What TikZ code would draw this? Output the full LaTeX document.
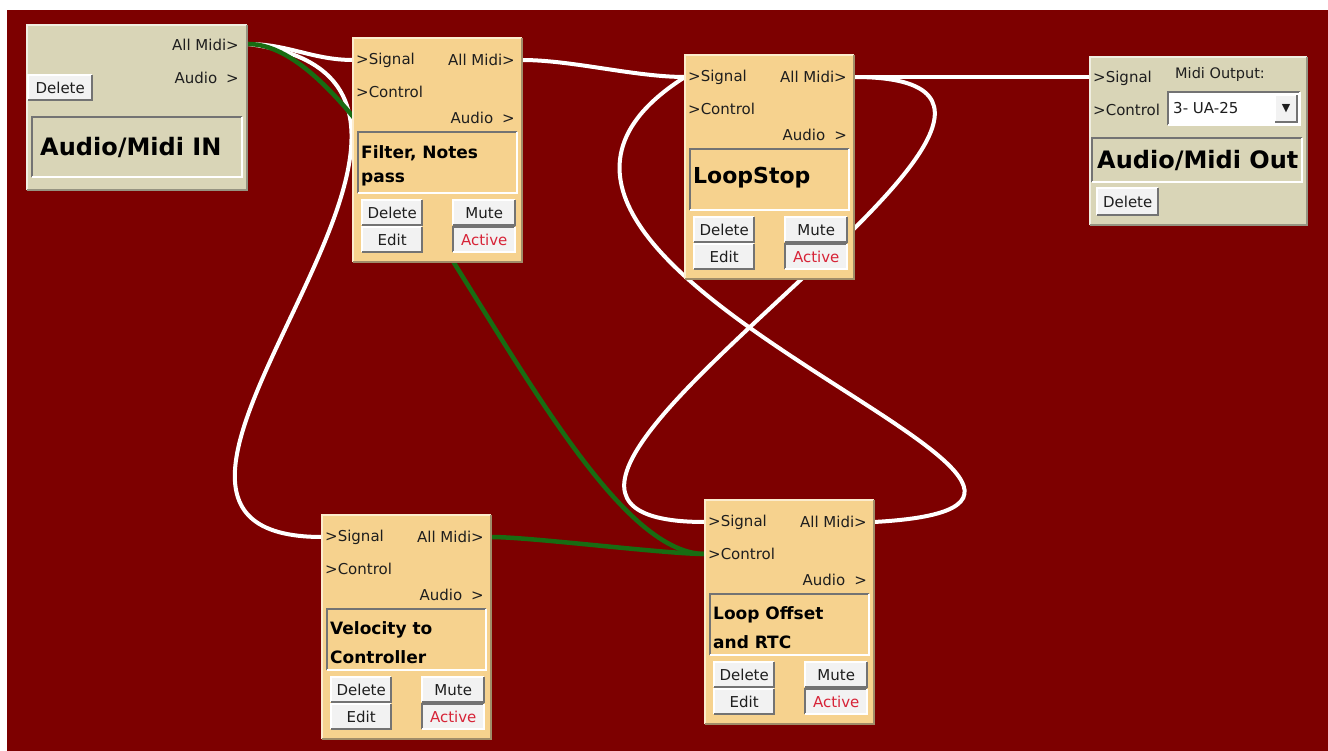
\documentclass[tikz,border=0pt]{standalone}
\usepackage{fontspec}
\setmainfont{DejaVu Sans}
\usetikzlibrary{calc}
\definecolor{bgred}{RGB}{125,0,0}
\definecolor{tanbox}{RGB}{246,210,142}
\definecolor{tanhi}{RGB}{252,236,205}
\definecolor{tanlo}{RGB}{160,140,105}
\definecolor{beige}{RGB}{217,213,183}
\definecolor{beigehi}{RGB}{240,238,225}
\definecolor{beigelo}{RGB}{150,148,130}
\definecolor{wgreen}{RGB}{24,108,18}
\definecolor{btnfill}{RGB}{242,242,242}
\definecolor{dkedge}{RGB}{115,115,115}
\definecolor{actred}{RGB}{215,35,55}
\definecolor{ink}{RGB}{30,30,30}
\pgfdeclarelayer{bglayer}
\pgfdeclarelayer{wires}
\pgfsetlayers{bglayer,wires,main}
\tikzset{
  lbl/.style={font=\fontsize{15}{17}\selectfont, inner sep=0pt, text=ink},
  pbox/.style={rectangle, anchor=north west, minimum width=169, minimum height=224, fill=tanbox, inner sep=0pt},
  panel/.style={rectangle, anchor=north west, minimum width=159, minimum height=61, fill=tanbox, inner sep=0pt},
  btn/.style={rectangle, anchor=north west, minimum width=60, minimum height=25, fill=btnfill, inner sep=0pt, font=\fontsize{15}{17}\selectfont, text=ink},
  actv/.style={btn, minimum width=62, text=actred},
  ttlS/.style={anchor=west, inner sep=0pt, font=\bfseries\fontsize{17}{19}\selectfont, text=black},
  ttlB/.style={anchor=west, inner sep=0pt, font=\bfseries\fontsize{22}{25}\selectfont, text=black},
  ttlX/.style={anchor=west, inner sep=0pt, font=\bfseries\fontsize{24}{27}\selectfont, text=black},
  wire/.style={draw=white, line width=4pt},
  gwire/.style={draw=wgreen, line width=4.5pt},
}
\newcommand\bevel[3]{%
  \draw[#2, line width=2pt] (#1.south west) |- (#1.north east);
  \draw[#3, line width=2pt] (#1.south west) -| (#1.north east);}
\newcommand\plugin[4]{%
\begin{scope}[shift={(#2,#3)}]
  \node[pbox] (#1) at (0,0) {};
  \bevel{#1}{tanhi}{tanlo}
  \node[lbl,anchor=west] (#1-l1) at (3,22) {>Signal};
  \node[lbl,anchor=east] (#1-l2) at (162,22) {All Midi>};
  \node[lbl,anchor=west] (#1-l3) at (3,54) {>Control};
  \node[lbl,anchor=east] (#1-l4) at (162,80) {Audio\hspace{9pt}>};
  \node[panel] (#1-t) at (5,94) {};
  \bevel{#1-t}{dkedge}{white}
  #4
  \node[btn] (#1-d) at (9,162) {Delete}; \bevel{#1-d}{white}{dkedge}
  \node[btn] (#1-e) at (9,189) {Edit}; \bevel{#1-e}{white}{dkedge}
  \node[btn, minimum width=62] (#1-m) at (100,162) {Mute}; \bevel{#1-m}{white}{dkedge}
  \node[actv] (#1-a) at (100,189) {Active}; \bevel{#1-a}{dkedge}{white}
  \coordinate (#1-sig) at (0,22);
  \coordinate (#1-ctl) at (0,54);
  \coordinate (#1-out) at (169,22);
\end{scope}}
\begin{document}
\begin{tikzpicture}[x=1pt,y=-1pt]
\useasboundingbox (0,0) rectangle (1328,751);
\begin{pgfonlayer}{bglayer}
  \fill[white] (0,0) rectangle (1328,751);
  \fill[bgred] (7,10) rectangle (1328,751);
\end{pgfonlayer}

% Audio/Midi IN
\node[rectangle, anchor=north west, minimum width=220, minimum height=165, fill=beige, inner sep=0pt] (in) at (27,25) {};
\bevel{in}{beigehi}{beigelo}
\node[lbl,anchor=east] (in-l1) at (239,45) {All Midi>};
\node[lbl,anchor=east] (in-l2) at (239,78) {Audio\hspace{9pt}>};
\node[btn, minimum width=64] (in-d) at (28,75) {Delete}; \bevel{in-d}{white}{dkedge}
\node[rectangle, anchor=north west, minimum width=210, minimum height=60, fill=beige, inner sep=0pt] (in-t) at (32,117) {};
\bevel{in-t}{dkedge}{white}
\node[ttlX] (in-tt) at (40,147) {Audio/Midi IN};
\coordinate (in-out) at (248,44);

% plugins
\plugin{filt}{353}{38}{%
  \node[ttlS] (filt-t1) at (8,115) {Filter, Notes};
  \node[ttlS] (filt-t2) at (8,142) {pass};}
\plugin{lstop}{685}{55}{%
  \node[ttlB] (lstop-t1) at (8,123) {LoopStop};}
\plugin{vel}{322}{515}{%
  \node[ttlS] (vel-t1) at (8,115) {Velocity to};
  \node[ttlS] (vel-t2) at (8,142) {Controller};}
\plugin{loff}{705}{500}{%
  \node[ttlS] (loff-t1) at (8,115) {Loop Offset};
  \node[ttlS] (loff-t2) at (8,142) {and RTC};}

% Audio/Midi Out
\node[rectangle, anchor=north west, minimum width=217, minimum height=168, fill=beige, inner sep=0pt] (out) at (1090,57) {};
\bevel{out}{beigehi}{beigelo}
\node[lbl,anchor=west] (out-l1) at (1093,78) {>Signal};
\node[lbl,anchor=west] (out-l2) at (1093,110) {>Control};
\node[anchor=west, inner sep=0pt, font=\fontsize{14.5}{16}\selectfont, text=ink] (out-l3) at (1175,75) {Midi Output:};
\node[rectangle, anchor=north west, minimum width=132, minimum height=33, fill=white, inner sep=0pt] (out-dd) at (1168,92) {};
\bevel{out-dd}{dkedge}{white}
\node[lbl,anchor=west] (out-ddt) at (1173,108) {3- UA-25};
\node[btn, minimum width=22, minimum height=27, font=\fontsize{11}{12}\selectfont] (out-ddb) at (1275,95) {▼};
\bevel{out-ddb}{white}{dkedge}
\node[rectangle, anchor=north west, minimum width=210, minimum height=44, fill=beige, inner sep=0pt] (out-t) at (1092,138) {};
\bevel{out-t}{dkedge}{white}
\node[ttlX] (out-tt) at (1097,160) {Audio/Midi Out};
\node[btn, minimum width=61, minimum height=27] (out-d) at (1097,188) {Delete}; \bevel{out-d}{white}{dkedge}
\coordinate (out-sig) at (1090,77);

% connectors
\begin{pgfonlayer}{wires}
  \draw[wire] (in-out) .. controls +(40,0) and +(-40,0) .. (filt-sig);
  \draw[wire] (in-out) .. controls +(312,40) and +(-282,0) .. (vel-sig);
  \draw[gwire] (in-out) .. controls +(140,0) and +(-140,0) .. (loff-ctl);
  \draw[wire] (filt-out) .. controls +(50,0) and +(-50,0) .. (lstop-sig);
  \draw[wire] (lstop-out) -- (out-sig);
  \draw[wire] (lstop-out) .. controls +(330,0) and +(-330,0) .. (loff-sig);
  \draw[wire] (loff-out) .. controls +(360,-20) and +(-300,190) .. (lstop-sig);
  \draw[gwire] (vel-out) .. controls +(40,0) and +(-40,0) .. (loff-ctl);
\end{pgfonlayer}
\end{tikzpicture}
\end{document}
